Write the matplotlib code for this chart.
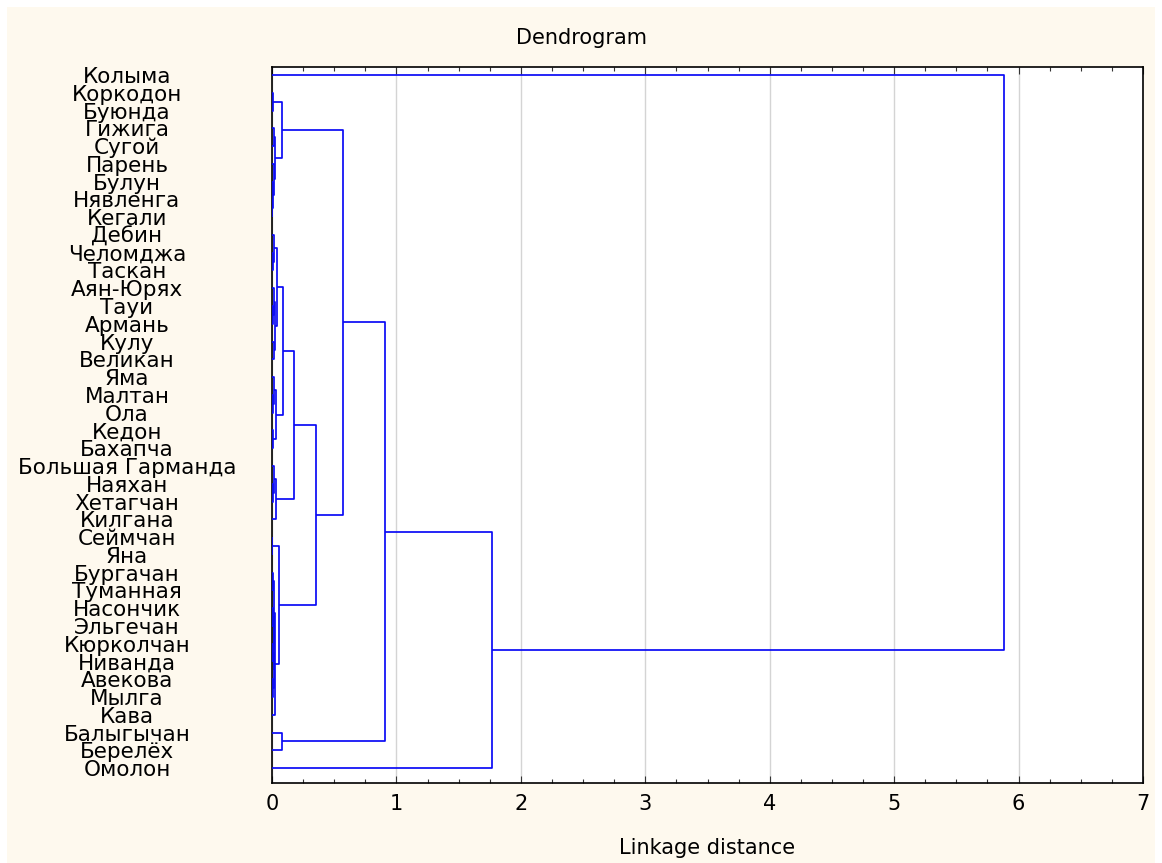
import matplotlib
matplotlib.use("Agg")
import matplotlib.pyplot as plt
from matplotlib.patches import Rectangle
from matplotlib.ticker import MultipleLocator
from matplotlib.collections import LineCollection

plt.rcParams['font.family'] = ['DejaVu Sans']

labels = ["Колыма", "Коркодон", "Буюнда", "Гижига", "Сугой", "Парень", "Булун",
          "Нявленга", "Кегали", "Дебин", "Челомджа", "Таскан", "Аян-Юрях", "Тауи",
          "Армань", "Кулу", "Великан", "Яма", "Малтан", "Ола", "Кедон", "Бахапча",
          "Большая Гарманда", "Наяхан", "Хетагчан", "Килгана", "Сеймчан", "Яна",
          "Бургачан", "Туманная", "Насончик", "Эльгечан", "Кюрколчан", "Ниванда",
          "Авекова", "Мылга", "Кава", "Балыгычан", "Берелёх", "Омолон"]

# linkage: node ids < 40 are leaves, new clusters get ids 40, 41, ...
link_a = [7, 6, 5, 3, 43, 1, 45, 10, 9, 13, 12, 15, 50, 48, 18, 17, 20, 55, 53,
          23, 22, 60, 58, 26, 28, 30, 32, 34, 66, 65, 64, 70, 63, 62, 46, 37, 74, 76, 0]
link_b = [8, 40, 41, 4, 42, 2, 44, 11, 47, 14, 49, 16, 51, 52, 19, 54, 21, 56, 57,
          24, 59, 25, 61, 27, 29, 31, 33, 35, 67, 68, 69, 36, 71, 72, 73, 38, 75, 39, 77]
link_h = [0.004, 0.010, 0.015, 0.018, 0.022, 0.006, 0.080, 0.012, 0.020, 0.010,
          0.016, 0.014, 0.024, 0.040, 0.008, 0.016, 0.012, 0.036, 0.085, 0.010,
          0.018, 0.030, 0.180, 0.004, 0.010, 0.008, 0.010, 0.008, 0.014, 0.018,
          0.020, 0.022, 0.056, 0.350, 0.570, 0.080, 0.910, 1.770, 5.880]

x_ticks = [0, 1, 2, 3, 4, 5, 6, 7]

W, H = 1162, 863
fig = plt.figure(figsize=(W / 100, H / 100), dpi=100, facecolor='white')
fig.patches.append(Rectangle((7 / W, 0), (1155 - 7) / W, (H - 7) / H,
                             transform=fig.transFigure, facecolor='#FEF9EE',
                             edgecolor='none', zorder=-1))

ax = fig.add_axes([272 / W, 1 - 783 / H, (1143 - 272) / W, (783 - 67) / H])
ax.set_facecolor('white')

n = len(labels)
pos = {i: float(i) for i in range(n)}
hgt = {i: 0.0 for i in range(n)}
segs = []
for k, (a, b, h) in enumerate(zip(link_a, link_b, link_h)):
    nid = n + k
    ya, yb = pos[a], pos[b]
    segs.append([(hgt[a], ya), (h, ya), (h, yb), (hgt[b], yb)])
    pos[nid] = (ya + yb) / 2
    hgt[nid] = h

lc = LineCollection(segs, colors='#0A0AF5', linewidths=1.25, zorder=3)
ax.add_collection(lc)

ax.set_xlim(0, 7)
ax.set_ylim(n - 1 + 0.84, -0.45)
ax.set_xticks(x_ticks)
ax.xaxis.set_minor_locator(MultipleLocator(0.25))
ax.tick_params(axis='x', which='both', direction='in', top=True, bottom=True,
               labelsize=15, pad=8, width=0.8, color='#333333')
ax.tick_params(axis='x', which='major', length=5)
ax.tick_params(axis='x', which='minor', length=3)
ax.grid(axis='x', which='major', color='#D4D4D4', linewidth=1.0)
ax.set_axisbelow(True)

ax.set_yticks(range(n))
ax.set_yticklabels(labels, fontsize=15.5)
ax.tick_params(axis='y', length=0, pad=104.4)
for t in ax.get_yticklabels():
    t.set_horizontalalignment('center')

for s in ax.spines.values():
    s.set_linewidth(1.2)
    s.set_color('black')

fig.text(0.5, 1 - 38 / H, "Dendrogram", ha='center', va='center', fontsize=15)
fig.text(707 / W, 1 - 848 / H, "Linkage distance", ha='center', va='center', fontsize=15)

fig.savefig("out.png", dpi=100, facecolor=fig.get_facecolor())
